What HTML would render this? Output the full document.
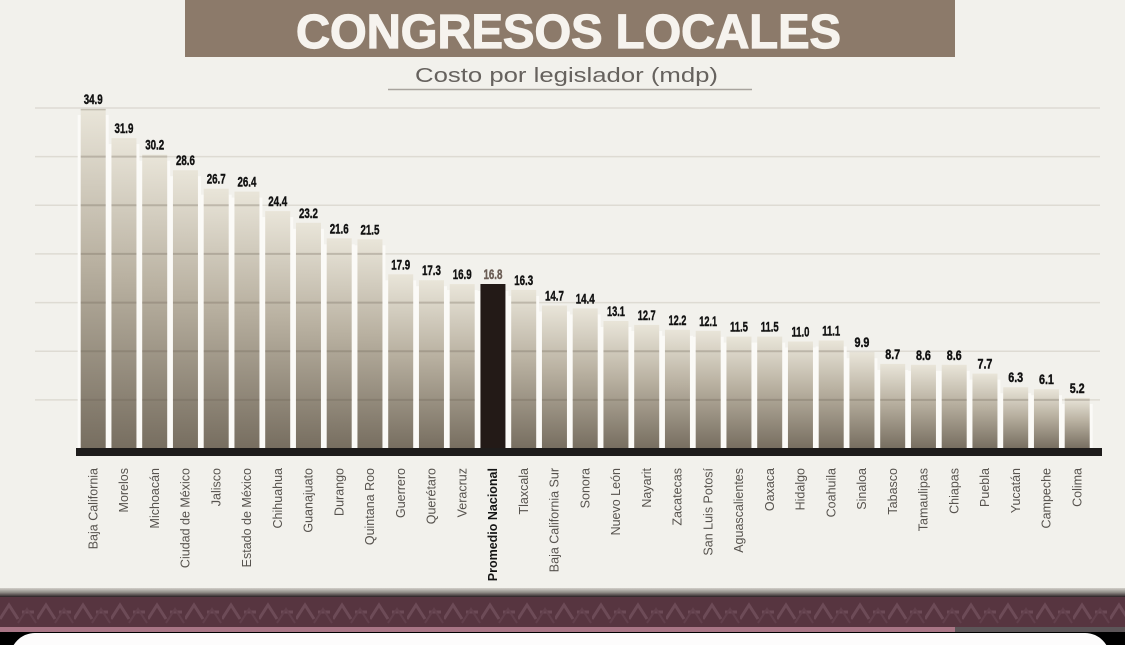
<!DOCTYPE html>
<html><head><meta charset="utf-8"><style>
html,body{margin:0;padding:0;background:#f2f1ec;overflow:hidden;width:1125px;height:645px;}
svg{display:block;}
</style></head><body>
<svg width="1125" height="645" viewBox="0 0 1125 645" xmlns="http://www.w3.org/2000/svg">
<defs>
<linearGradient id="bg" x1="0" y1="0" x2="0" y2="1">
<stop offset="0" stop-color="#e9e5d9"/>
<stop offset="0.45" stop-color="#b9b1a1"/>
<stop offset="1" stop-color="#776e60"/>
</linearGradient>
<linearGradient id="sep" x1="0" y1="0" x2="0" y2="1">
<stop offset="0" stop-color="#d2cfc9"/>
<stop offset="0.5" stop-color="#8e8a85"/>
<stop offset="1" stop-color="#2a2024"/>
</linearGradient>
<pattern id="zz" x="0" y="597" width="37" height="30" patternUnits="userSpaceOnUse">
<rect width="37" height="30" fill="#573540"/>
<polyline points="0,22 9,8 18,22" fill="none" stroke="#6d4b57" stroke-width="3"/>
<line x1="22" y1="15" x2="34" y2="15" stroke="#6d4b57" stroke-width="3"/>
<polyline points="18,26 27,12 36,26" fill="none" stroke="#62404c" stroke-width="2"/>
</pattern>
<clipPath id="barclip">
<rect x="80.7" y="108.9" width="25" height="339.6"/>
<rect x="111.45" y="138.1" width="25" height="310.4"/>
<rect x="142.2" y="154.7" width="25" height="293.8"/>
<rect x="172.95" y="170.2" width="25" height="278.3"/>
<rect x="203.7" y="188.7" width="25" height="259.8"/>
<rect x="234.45" y="191.6" width="25" height="256.9"/>
<rect x="265.2" y="211.1" width="25" height="237.4"/>
<rect x="295.95" y="222.8" width="25" height="225.7"/>
<rect x="326.7" y="238.3" width="25" height="210.2"/>
<rect x="357.45" y="239.3" width="25" height="209.2"/>
<rect x="388.2" y="274.3" width="25" height="174.2"/>
<rect x="418.95" y="280.2" width="25" height="168.3"/>
<rect x="449.7" y="284.1" width="25" height="164.4"/>
<rect x="511.2" y="289.9" width="25" height="158.6"/>
<rect x="541.95" y="305.5" width="25" height="143"/>
<rect x="572.7" y="308.4" width="25" height="140.1"/>
<rect x="603.45" y="321" width="25" height="127.5"/>
<rect x="634.2" y="324.9" width="25" height="123.6"/>
<rect x="664.95" y="329.8" width="25" height="118.7"/>
<rect x="695.7" y="330.8" width="25" height="117.7"/>
<rect x="726.45" y="336.6" width="25" height="111.9"/>
<rect x="757.2" y="336.6" width="25" height="111.9"/>
<rect x="787.95" y="341.5" width="25" height="107"/>
<rect x="818.7" y="340.5" width="25" height="108"/>
<rect x="849.45" y="352.2" width="25" height="96.3"/>
<rect x="880.2" y="363.9" width="25" height="84.6"/>
<rect x="910.95" y="364.8" width="25" height="83.7"/>
<rect x="941.7" y="364.8" width="25" height="83.7"/>
<rect x="972.45" y="373.6" width="25" height="74.9"/>
<rect x="1003.2" y="387.2" width="25" height="61.3"/>
<rect x="1033.95" y="389.2" width="25" height="59.3"/>
<rect x="1064.7" y="397.9" width="25" height="50.6"/>
</clipPath>
</defs>

<rect width="1125" height="645" fill="#f2f1ec"/>

<!-- Title -->
<rect x="185" y="0" width="770" height="57" fill="#8c7a6a"/>
<text x="568.5" y="48" text-anchor="middle" font-family="Liberation Sans, sans-serif" font-weight="bold" font-size="48" fill="#f6f3ee" stroke="#f6f3ee" stroke-width="1.2" textLength="545" lengthAdjust="spacingAndGlyphs">CONGRESOS LOCALES</text>
<text x="566.5" y="82" text-anchor="middle" font-family="Liberation Sans, sans-serif" font-size="20" fill="#66625e" textLength="303" lengthAdjust="spacingAndGlyphs">Costo por legislador (mdp)</text>
<line x1="388" y1="89.5" x2="752" y2="89.5" stroke="#a8a49e" stroke-width="1.5"/>

<!-- background gridlines -->
<g stroke="#dedbd3" stroke-width="1.5">
<line x1="35" y1="108" x2="1100" y2="108"/>
<line x1="35" y1="156.6" x2="1100" y2="156.6"/>
<line x1="35" y1="205.3" x2="1100" y2="205.3"/>
<line x1="35" y1="253.9" x2="1100" y2="253.9"/>
<line x1="35" y1="302.6" x2="1100" y2="302.6"/>
<line x1="35" y1="351.2" x2="1100" y2="351.2"/>
<line x1="35" y1="399.9" x2="1100" y2="399.9"/>
</g>

<!-- glow behind bars -->
<g fill="#fbfaf7">
<rect x="77.7" y="114.9" width="31" height="334"/>
<rect x="108.45" y="144.1" width="31" height="305"/>
<rect x="139.2" y="160.7" width="31" height="288"/>
<rect x="169.95" y="176.2" width="31" height="273"/>
<rect x="200.7" y="194.7" width="31" height="254"/>
<rect x="231.45" y="197.6" width="31" height="251"/>
<rect x="262.2" y="217.1" width="31" height="232"/>
<rect x="292.95" y="228.8" width="31" height="220"/>
<rect x="323.7" y="244.3" width="31" height="205"/>
<rect x="354.45" y="245.3" width="31" height="204"/>
<rect x="385.2" y="280.3" width="31" height="169"/>
<rect x="415.95" y="286.2" width="31" height="163"/>
<rect x="446.7" y="290.1" width="31" height="159"/>
<rect x="477.45" y="291" width="31" height="158"/>
<rect x="508.2" y="295.9" width="31" height="153"/>
<rect x="538.95" y="311.5" width="31" height="138"/>
<rect x="569.7" y="314.4" width="31" height="135"/>
<rect x="600.45" y="327" width="31" height="122"/>
<rect x="631.2" y="330.9" width="31" height="118"/>
<rect x="661.95" y="335.8" width="31" height="113"/>
<rect x="692.7" y="336.8" width="31" height="112"/>
<rect x="723.45" y="342.6" width="31" height="106"/>
<rect x="754.2" y="342.6" width="31" height="106"/>
<rect x="784.95" y="347.5" width="31" height="101"/>
<rect x="815.7" y="346.5" width="31" height="102"/>
<rect x="846.45" y="358.2" width="31" height="91"/>
<rect x="877.2" y="369.9" width="31" height="79"/>
<rect x="907.95" y="370.8" width="31" height="78"/>
<rect x="938.7" y="370.8" width="31" height="78"/>
<rect x="969.45" y="379.6" width="31" height="69"/>
<rect x="1000.2" y="393.2" width="31" height="56"/>
<rect x="1030.95" y="395.2" width="31" height="54"/>
<rect x="1061.7" y="403.9" width="31" height="45"/>
</g>

<!-- bars -->
<g fill="url(#bg)">
<rect x="80.7" y="108.9" width="25" height="339.6"/>
<rect x="111.45" y="138.1" width="25" height="310.4"/>
<rect x="142.2" y="154.7" width="25" height="293.8"/>
<rect x="172.95" y="170.2" width="25" height="278.3"/>
<rect x="203.7" y="188.7" width="25" height="259.8"/>
<rect x="234.45" y="191.6" width="25" height="256.9"/>
<rect x="265.2" y="211.1" width="25" height="237.4"/>
<rect x="295.95" y="222.8" width="25" height="225.7"/>
<rect x="326.7" y="238.3" width="25" height="210.2"/>
<rect x="357.45" y="239.3" width="25" height="209.2"/>
<rect x="388.2" y="274.3" width="25" height="174.2"/>
<rect x="418.95" y="280.2" width="25" height="168.3"/>
<rect x="449.7" y="284.1" width="25" height="164.4"/>
<rect x="511.2" y="289.9" width="25" height="158.6"/>
<rect x="541.95" y="305.5" width="25" height="143"/>
<rect x="572.7" y="308.4" width="25" height="140.1"/>
<rect x="603.45" y="321" width="25" height="127.5"/>
<rect x="634.2" y="324.9" width="25" height="123.6"/>
<rect x="664.95" y="329.8" width="25" height="118.7"/>
<rect x="695.7" y="330.8" width="25" height="117.7"/>
<rect x="726.45" y="336.6" width="25" height="111.9"/>
<rect x="757.2" y="336.6" width="25" height="111.9"/>
<rect x="787.95" y="341.5" width="25" height="107"/>
<rect x="818.7" y="340.5" width="25" height="108"/>
<rect x="849.45" y="352.2" width="25" height="96.3"/>
<rect x="880.2" y="363.9" width="25" height="84.6"/>
<rect x="910.95" y="364.8" width="25" height="83.7"/>
<rect x="941.7" y="364.8" width="25" height="83.7"/>
<rect x="972.45" y="373.6" width="25" height="74.9"/>
<rect x="1003.2" y="387.2" width="25" height="61.3"/>
<rect x="1033.95" y="389.2" width="25" height="59.3"/>
<rect x="1064.7" y="397.9" width="25" height="50.6"/>
</g>
<rect x="480.45" y="284" width="25" height="164.5" fill="#231a17"/>

<!-- gridline overlays on bars (darker) -->
<g stroke="#6e6555" stroke-opacity="0.3" stroke-width="2" clip-path="url(#barclip)">
<line x1="78" y1="108.9" x2="1092" y2="108.9" stroke-width="3"/>
<line x1="78" y1="156.6" x2="1092" y2="156.6"/>
<line x1="78" y1="205.3" x2="1092" y2="205.3"/>
<line x1="78" y1="253.9" x2="1092" y2="253.9"/>
<line x1="78" y1="302.6" x2="1092" y2="302.6"/>
<line x1="78" y1="351.2" x2="1092" y2="351.2"/>
<line x1="78" y1="399.9" x2="1092" y2="399.9"/>
</g>

<!-- axis -->
<rect x="76" y="448" width="1026" height="8" fill="#1e1c1b"/>

<!-- value labels -->
<g font-family="Liberation Sans, sans-serif" font-weight="bold" font-size="14" fill="#111" stroke="#111" stroke-width="0.4" text-anchor="middle">
<text x="93.2" y="103.9" textLength="19" lengthAdjust="spacingAndGlyphs">34.9</text>
<text x="123.95" y="133.1" textLength="19" lengthAdjust="spacingAndGlyphs">31.9</text>
<text x="154.7" y="149.7" textLength="19" lengthAdjust="spacingAndGlyphs">30.2</text>
<text x="185.45" y="165.2" textLength="19" lengthAdjust="spacingAndGlyphs">28.6</text>
<text x="216.2" y="183.7" textLength="19" lengthAdjust="spacingAndGlyphs">26.7</text>
<text x="246.95" y="186.6" textLength="19" lengthAdjust="spacingAndGlyphs">26.4</text>
<text x="277.7" y="206.1" textLength="19" lengthAdjust="spacingAndGlyphs">24.4</text>
<text x="308.45" y="217.8" textLength="19" lengthAdjust="spacingAndGlyphs">23.2</text>
<text x="339.2" y="233.3" textLength="19" lengthAdjust="spacingAndGlyphs">21.6</text>
<text x="369.95" y="234.3" textLength="19" lengthAdjust="spacingAndGlyphs">21.5</text>
<text x="400.7" y="269.3" textLength="19" lengthAdjust="spacingAndGlyphs">17.9</text>
<text x="431.45" y="275.2" textLength="19" lengthAdjust="spacingAndGlyphs">17.3</text>
<text x="462.2" y="279.1" textLength="19" lengthAdjust="spacingAndGlyphs">16.9</text>
<text x="492.95" y="279" textLength="19" lengthAdjust="spacingAndGlyphs" fill="#6b5d55" stroke="#6b5d55">16.8</text>
<text x="523.7" y="284.9" textLength="19" lengthAdjust="spacingAndGlyphs">16.3</text>
<text x="554.45" y="300.5" textLength="19" lengthAdjust="spacingAndGlyphs">14.7</text>
<text x="585.2" y="303.4" textLength="19" lengthAdjust="spacingAndGlyphs">14.4</text>
<text x="615.95" y="316" textLength="18" lengthAdjust="spacingAndGlyphs">13.1</text>
<text x="646.7" y="319.9" textLength="18" lengthAdjust="spacingAndGlyphs">12.7</text>
<text x="677.45" y="324.8" textLength="18" lengthAdjust="spacingAndGlyphs">12.2</text>
<text x="708.2" y="325.8" textLength="18" lengthAdjust="spacingAndGlyphs">12.1</text>
<text x="738.95" y="331.6" textLength="18" lengthAdjust="spacingAndGlyphs">11.5</text>
<text x="769.7" y="331.6" textLength="18" lengthAdjust="spacingAndGlyphs">11.5</text>
<text x="800.45" y="336.5" textLength="18" lengthAdjust="spacingAndGlyphs">11.0</text>
<text x="831.2" y="335.5" textLength="18" lengthAdjust="spacingAndGlyphs">11.1</text>
<text x="861.95" y="347.2" textLength="15" lengthAdjust="spacingAndGlyphs">9.9</text>
<text x="892.7" y="358.9" textLength="15" lengthAdjust="spacingAndGlyphs">8.7</text>
<text x="923.45" y="359.8" textLength="15" lengthAdjust="spacingAndGlyphs">8.6</text>
<text x="954.2" y="359.8" textLength="15" lengthAdjust="spacingAndGlyphs">8.6</text>
<text x="984.95" y="368.6" textLength="15" lengthAdjust="spacingAndGlyphs">7.7</text>
<text x="1015.7" y="382.2" textLength="15" lengthAdjust="spacingAndGlyphs">6.3</text>
<text x="1046.45" y="384.2" textLength="15" lengthAdjust="spacingAndGlyphs">6.1</text>
<text x="1077.2" y="392.9" textLength="15" lengthAdjust="spacingAndGlyphs">5.2</text>
</g>

<!-- category labels -->
<g font-family="Liberation Sans, sans-serif" font-size="12.5" fill="#57534e" text-anchor="end">
<text transform="translate(97.5,468) rotate(-90)">Baja California</text>
<text transform="translate(128.2,468) rotate(-90)">Morelos</text>
<text transform="translate(159,468) rotate(-90)">Michoacán</text>
<text transform="translate(189.7,468) rotate(-90)">Ciudad de México</text>
<text transform="translate(220.5,468) rotate(-90)">Jalisco</text>
<text transform="translate(251.2,468) rotate(-90)">Estado de México</text>
<text transform="translate(282,468) rotate(-90)">Chihuahua</text>
<text transform="translate(312.7,468) rotate(-90)">Guanajuato</text>
<text transform="translate(343.5,468) rotate(-90)">Durango</text>
<text transform="translate(374.2,468) rotate(-90)">Quintana Roo</text>
<text transform="translate(405,468) rotate(-90)">Guerrero</text>
<text transform="translate(435.7,468) rotate(-90)">Querétaro</text>
<text transform="translate(466.5,468) rotate(-90)">Veracruz</text>
<text transform="translate(497.2,468) rotate(-90)" font-weight="bold" fill="#151515">Promedio Nacional</text>
<text transform="translate(528,468) rotate(-90)">Tlaxcala</text>
<text transform="translate(558.7,468) rotate(-90)">Baja California Sur</text>
<text transform="translate(589.5,468) rotate(-90)">Sonora</text>
<text transform="translate(620.2,468) rotate(-90)">Nuevo León</text>
<text transform="translate(651,468) rotate(-90)">Nayarit</text>
<text transform="translate(681.7,468) rotate(-90)">Zacatecas</text>
<text transform="translate(712.5,468) rotate(-90)">San Luis Potosí</text>
<text transform="translate(743.2,468) rotate(-90)">Aguascalientes</text>
<text transform="translate(774,468) rotate(-90)">Oaxaca</text>
<text transform="translate(804.7,468) rotate(-90)">Hidalgo</text>
<text transform="translate(835.5,468) rotate(-90)">Coahuila</text>
<text transform="translate(866.2,468) rotate(-90)">Sinaloa</text>
<text transform="translate(897,468) rotate(-90)">Tabasco</text>
<text transform="translate(927.7,468) rotate(-90)">Tamaulipas</text>
<text transform="translate(958.5,468) rotate(-90)">Chiapas</text>
<text transform="translate(989.2,468) rotate(-90)">Puebla</text>
<text transform="translate(1020,468) rotate(-90)">Yucatán</text>
<text transform="translate(1050.7,468) rotate(-90)">Campeche</text>
<text transform="translate(1081.5,468) rotate(-90)">Colima</text>
</g>

<!-- bottom band -->
<rect x="0" y="588" width="1125" height="9" fill="url(#sep)"/>
<rect x="0" y="597" width="1125" height="30" fill="url(#zz)"/>
<rect x="0" y="627" width="955" height="5" fill="#a87585"/>
<rect x="955" y="627" width="170" height="5" fill="#5c5558"/>
<rect x="0" y="632" width="1125" height="13" fill="#000"/>
<path d="M10,645 L10,658 A25,25 0 0 1 35,633 L1085,633 A25,25 0 0 1 1110,658 L1110,645 Z" fill="#fdfcfc"/>
</svg>
</body></html>
